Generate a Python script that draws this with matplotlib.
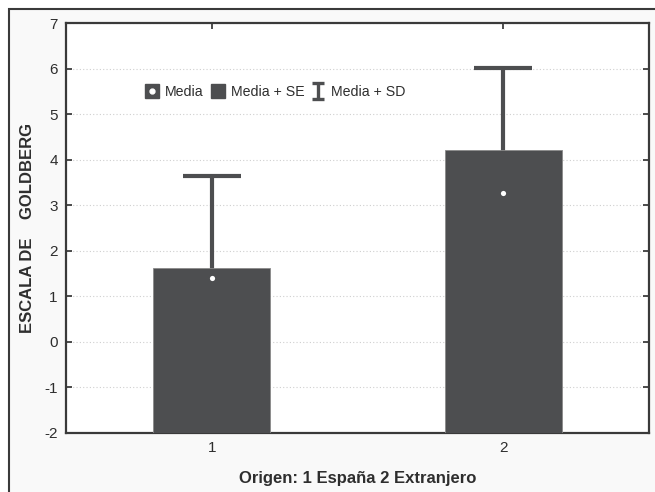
import numpy as np
import matplotlib.pyplot as plt
from matplotlib.patches import Rectangle
from matplotlib.lines import Line2D
from matplotlib.path import Path

plt.rcParams['font.family'] = ['Liberation Sans', 'DejaVu Sans']
plt.rcParams['axes.unicode_minus'] = False

# data
groups = [1, 2]
media = [1.40, 3.27]
media_se = [1.62, 4.21]
media_sd = [3.64, 6.01]
yticks = list(range(-2, 8))

dark = '#4d4e50'
txt = '#2e2e2e'

fig = plt.figure(figsize=(6.55, 4.92), dpi=100, facecolor='white')
# light grey panel with border on top / left
fig.patches.append(Rectangle((9 / 655, -0.01), 1, 1 - 9 / 492 + 0.01,
                             transform=fig.transFigure, facecolor='#f9f9f9',
                             edgecolor='#3a3a3a', linewidth=1.5, zorder=-5))

ax = fig.add_axes([66 / 655, 59 / 492, 583 / 655, 410 / 492])
ax.set_zorder(2)
ax.set_facecolor('white')

base = -2
heights = [v - base for v in media_se]
ax.bar(groups, heights, bottom=base, width=0.4, color=dark,
       edgecolor='#8a8a8a', linewidth=0.6, zorder=3)
sd_up = [s - m for s, m in zip(media_sd, media)]
ax.errorbar(groups, media, yerr=[[0, 0], sd_up], fmt='none', ecolor=dark,
            elinewidth=3, capsize=21, capthick=3, zorder=2)
ax.scatter(groups, media, s=14, color='white', zorder=4, linewidths=0)

ax.set_xlim(0.5, 2.5)
ax.set_ylim(-2, 7)
ax.set_xticks(groups)
ax.set_yticks(yticks)
ax.yaxis.grid(True, linestyle=(0, (1, 2)), color='#cfcfcf', linewidth=0.8)
ax.set_axisbelow(True)
ax.tick_params(direction='in', top=True, right=True, length=4, width=1.2,
               colors=txt, labelsize=11, pad=6)
for s in ax.spines.values():
    s.set_color('#3a3a3a')
    s.set_linewidth(1.6)

# legend
ibeam = Path([(-0.8, 1), (0.8, 1), (0, 1), (0, -1), (-0.8, -1), (0.8, -1)],
             [Path.MOVETO, Path.LINETO, Path.MOVETO, Path.LINETO,
              Path.MOVETO, Path.LINETO])
h1 = (Line2D([], [], marker='s', color=dark, linestyle='none', markersize=10),
      Line2D([], [], marker='o', color='white', linestyle='none', markersize=3.5))
h2 = Line2D([], [], marker='s', color=dark, linestyle='none', markersize=10)
h3 = Line2D([], [], marker=ibeam, color=dark, linestyle='none', markersize=11.5,
            markeredgewidth=2.4)
leg = ax.legend([h1, h2, h3], ['Media', 'Media + SE', 'Media + SD'],
                loc='center left', bbox_to_anchor=(0.119, 0.832), ncol=3,
                frameon=False, handlelength=1.0, handletextpad=0.4,
                columnspacing=0.5, fontsize=10.2, borderpad=0.2)
for t in leg.get_texts():
    t.set_color(txt)

fig.text(28 / 655, 1 - 228 / 492, 'ESCALA DE    GOLDBERG', rotation=90,
         ha='center', va='center', fontsize=12, fontweight='bold', color=txt)
fig.text(358 / 655, 1 - 479 / 492, 'Origen: 1 España 2 Extranjero',
         ha='center', va='center', fontsize=12, fontweight='bold', color=txt)

plt.savefig('out.png', dpi=100, facecolor='white')
